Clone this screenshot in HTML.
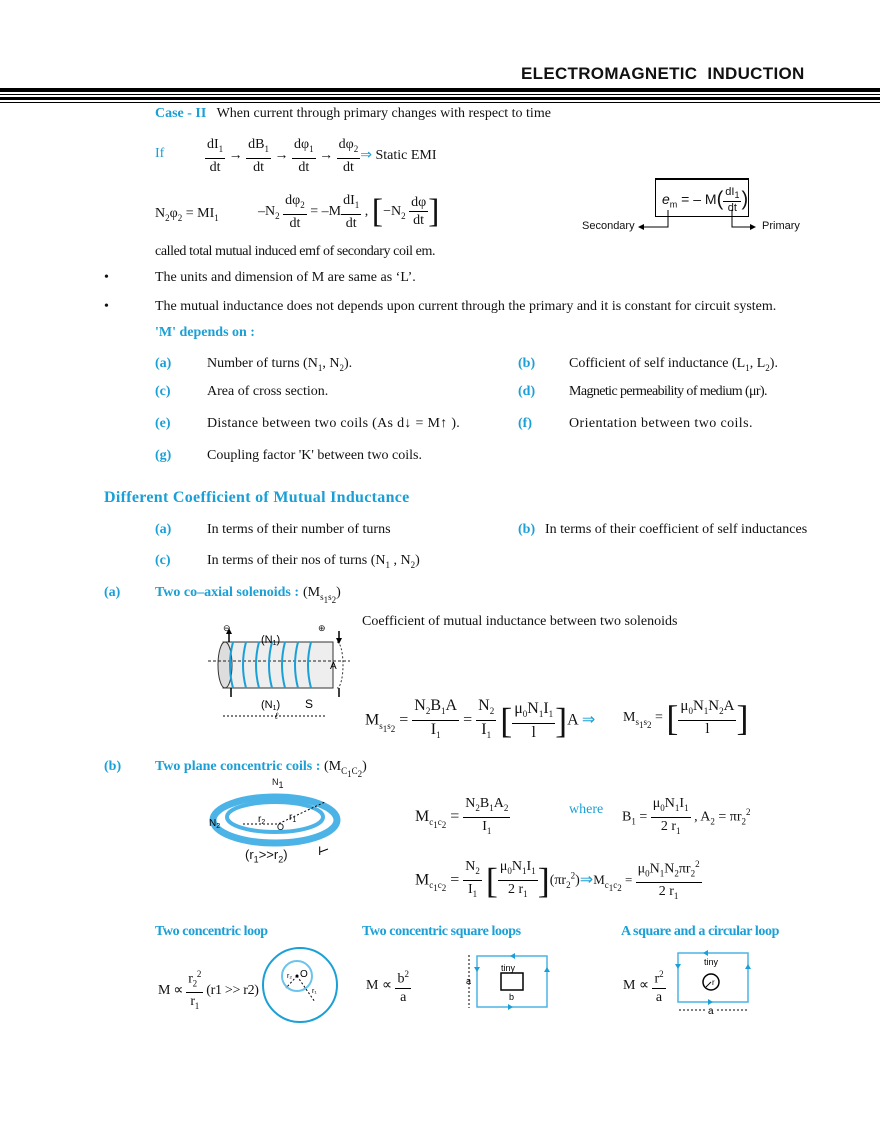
<!DOCTYPE html>
<html><head><meta charset="utf-8">
<style>
body{margin:0;width:880px;height:1139px;background:#fff;position:relative;font-family:"Liberation Serif",serif;font-size:14px;color:#111;overflow:hidden}
.a{position:absolute;white-space:nowrap}
.c{color:#1a9fd6}
.b{font-weight:bold}
.fr{display:inline-block;vertical-align:middle;text-align:center;line-height:17px}
.fr>span{display:block;padding:0 2px}
.fr>.n{border-bottom:1px solid #000}
sub{font-size:9px}
sup{font-size:9px}
.ln{position:absolute;left:0;width:880px;background:#000}
.sans{font-family:"Liberation Sans",sans-serif}
</style></head><body>
<div class="a sans b" style="left:521px;top:64px;font-size:17px;letter-spacing:0.3px">ELECTROMAGNETIC&nbsp; INDUCTION</div>
<div class="ln" style="top:88px;height:4px"></div>
<div class="ln" style="top:94px;height:1px"></div>
<div class="ln" style="top:97px;height:3px"></div>
<div class="ln" style="top:102px;height:1px"></div>

<div class="a" style="left:155px;top:106px"><span class="c b">Case - II</span>&nbsp;&nbsp; When current through primary changes with respect to time</div>
<div class="a c" style="left:155px;top:146px">If</div>
<div class="a" style="left:205px;top:136px">
<span class="fr"><span class="n">dI<sub>1</sub></span><span>dt</span></span> &rarr;
<span class="fr"><span class="n">dB<sub>1</sub></span><span>dt</span></span> &rarr;
<span class="fr"><span class="n">d&phi;<sub>1</sub></span><span>dt</span></span> &rarr;
<span class="fr"><span class="n">d&phi;<sub>2</sub></span><span>dt</span></span><span class="c">&rArr;</span> Static EMI</div>

<div class="a" style="left:155px;top:206px">N<sub>2</sub>&phi;<sub>2</sub> = MI<sub>1</sub></div>
<div class="a" style="left:258px;top:192px">&ndash;N<sub>2</sub> <span class="fr"><span class="n">d&phi;<sub>2</sub></span><span>dt</span></span> = &ndash;M<span class="fr"><span class="n">dI<sub>1</sub></span><span>dt</span></span> ,
<span style="font-size:34px;vertical-align:middle;font-weight:100">[</span>&minus;N<sub>2</sub> <span class="fr"><span class="n">d&phi;</span><span>dt</span></span><span style="font-size:34px;vertical-align:middle;font-weight:100">]</span></div>

<div class="a sans" style="left:655px;top:178px;width:92px;height:36px;border:1px solid #000;border-top:2px solid #000;font-size:13px"></div>
<div class="a sans" style="left:662px;top:186px;font-size:14px"><i>e</i><sub>m</sub> = &ndash; M<span style="font-size:20px;vertical-align:middle">(</span><span class="fr" style="font-size:11px;line-height:12px"><span class="n">dI<sub>1</sub></span><span>dt</span></span><span style="font-size:20px;vertical-align:middle">)</span></div>
<svg class="a" style="left:620px;top:210px" width="120" height="24"><path d="M48 0V17H22" stroke="#000" fill="none"/><path d="M18 17l6-3v6z"/><path d="M112 0V17H135" stroke="#000" fill="none"/></svg>
<svg class="a" style="left:730px;top:210px" width="30" height="24"><path d="M2 0V17H22" stroke="#000" fill="none"/><path d="M26 17l-6-3v6z"/></svg>
<div class="a sans" style="left:582px;top:220px;font-size:11px">Secondary</div>
<div class="a sans" style="left:762px;top:220px;font-size:11px">Primary</div>

<div class="a" style="left:155px;top:244px;letter-spacing:-0.4px">called total mutual induced emf of secondary coil em.</div>
<div class="a" style="left:104px;top:270px">&bull;</div>
<div class="a" style="left:155px;top:270px">The units and dimension of M are same as &lsquo;L&rsquo;.</div>
<div class="a" style="left:104px;top:299px">&bull;</div>
<div class="a" style="left:155px;top:299px">The mutual inductance does not depends upon current through the primary and it is constant for circuit system.</div>
<div class="a c b" style="left:155px;top:325px">'M' depends on :</div>

<div class="a c b" style="left:155px;top:356px">(a)</div><div class="a" style="left:207px;top:356px">Number of turns (N<sub>1</sub>, N<sub>2</sub>).</div>
<div class="a c b" style="left:518px;top:356px">(b)</div><div class="a" style="left:569px;top:356px">Cofficient of self inductance (L<sub>1</sub>, L<sub>2</sub>).</div>
<div class="a c b" style="left:155px;top:384px">(c)</div><div class="a" style="left:207px;top:384px">Area of cross section.</div>
<div class="a c b" style="left:518px;top:384px">(d)</div><div class="a" style="left:569px;top:384px;letter-spacing:-0.6px">Magnetic permeability of medium (&mu;r).</div>
<div class="a c b" style="left:155px;top:416px">(e)</div><div class="a" style="left:207px;top:416px;letter-spacing:0.3px">Distance between two coils (As d&darr; = M&uarr; ).</div>
<div class="a c b" style="left:518px;top:416px">(f)</div><div class="a" style="left:569px;top:416px;letter-spacing:0.4px">Orientation between two coils.</div>
<div class="a c b" style="left:155px;top:448px">(g)</div><div class="a" style="left:207px;top:448px">Coupling factor 'K' between two coils.</div>

<div class="a c b" style="left:104px;top:489px;font-size:16px;letter-spacing:0.3px">Different Coefficient of Mutual Inductance</div>
<div class="a c b" style="left:155px;top:522px">(a)</div><div class="a" style="left:207px;top:522px">In terms of their number of turns</div>
<div class="a c b" style="left:518px;top:522px">(b)</div><div class="a" style="left:545px;top:522px">In terms of their coefficient of self inductances</div>
<div class="a c b" style="left:155px;top:553px">(c)</div><div class="a" style="left:207px;top:553px">In terms of their nos of turns (N<sub>1</sub> , N<sub>2</sub>)</div>

<div class="a c b" style="left:104px;top:585px">(a)</div>
<div class="a c b" style="left:155px;top:585px">Two co&ndash;axial solenoids :</div>
<div class="a" style="left:303px;top:585px">(M<sub>s<sub>1</sub>s<sub>2</sub></sub>)</div>
<div class="a" style="left:362px;top:614px">Coefficient of mutual inductance between two solenoids</div>

<svg class="a" style="left:205px;top:625px" width="150" height="95">
<rect x="18" y="17" width="110" height="46" fill="#eee" stroke="#333"/>
<ellipse cx="20" cy="40" rx="7" ry="23" fill="#ddd" stroke="#333"/>
<path d="M132 17a6 23 0 0 1 0 46" stroke="#333" fill="none" stroke-dasharray="2 2"/>
<path d="M3 36H145" stroke="#222" stroke-dasharray="3 2"/>
<g stroke="#1a9fd6" stroke-width="2" fill="none">
<path d="M28 17q-6 23 0 46M41 17q-6 23 0 46M54 17q-6 23 0 46M67 17q-6 23 0 46M80 17q-6 23 0 46M93 17q-6 23 0 46M106 17q-6 23 0 46"/>
</g>
<path d="M24 17V5M134 6V17M26 63V72M134 63V72" stroke="#000" stroke-width="1.5"/>
<path d="M24 3l-3 6h6zM134 19l-3-6h6z"/>
<text x="125" y="44" font-family="Liberation Sans" font-size="10">A</text>
<text x="56" y="18" font-family="Liberation Sans" font-size="11">(N<tspan font-size="7" dy="2">1</tspan><tspan dy="-2">)</tspan></text>
<text x="56" y="83" font-family="Liberation Sans" font-size="11">(N<tspan font-size="7" dy="2">1</tspan><tspan dy="-2">)</tspan></text>
<text x="100" y="83" font-family="Liberation Sans" font-size="12">S</text>
<path d="M18 91H122" stroke="#000" stroke-dasharray="2 2"/>
<text x="70" y="94" font-family="Liberation Sans" font-size="9" font-style="italic">ℓ</text>
</svg>
<div class="a sans" style="left:223px;top:623px;font-size:9px">&#8854;</div>
<div class="a sans" style="left:318px;top:623px;font-size:9px">&#8853;</div>

<div class="a" style="left:365px;top:697px;font-size:16px">M<sub>s<sub>1</sub>s<sub>2</sub></sub> =
<span class="fr"><span class="n">N<sub>2</sub>B<sub>1</sub>A</span><span>I<sub>1</sub></span></span> =
<span class="fr"><span class="n">N<sub>2</sub></span><span>I<sub>1</sub></span></span>
<span style="font-size:36px;vertical-align:middle;font-weight:100">[</span><span class="fr"><span class="n">&mu;<sub>0</sub>N<sub>1</sub>I<sub>1</sub></span><span>l</span></span><span style="font-size:36px;vertical-align:middle;font-weight:100">]</span>A <span class="c">&rArr;</span></div>
<div class="a" style="left:623px;top:697px;font-size:14px">M<sub>s<sub>1</sub>s<sub>2</sub></sub> = <span style="font-size:36px;vertical-align:middle;font-weight:100">[</span><span class="fr" style="font-size:15px"><span class="n">&mu;<sub>0</sub>N<sub>1</sub>N<sub>2</sub>A</span><span>l</span></span><span style="font-size:36px;vertical-align:middle;font-weight:100">]</span></div>

<div class="a c b" style="left:104px;top:759px">(b)</div>
<div class="a c b" style="left:155px;top:759px">Two plane concentric coils :</div>
<div class="a" style="left:324px;top:759px">(M<sub>C<sub>1</sub>C<sub>2</sub></sub>)</div>

<svg class="a" style="left:205px;top:780px" width="140" height="80">
<ellipse cx="70" cy="40" rx="62" ry="23" fill="none" stroke="#4bb3e6" stroke-width="7"/>
<ellipse cx="70" cy="37" rx="48" ry="15" fill="none" stroke="#4bb3e6" stroke-width="4"/>
<path d="M38 44H73L120 22" stroke="#000" stroke-dasharray="2 2" fill="none"/>
<text x="4" y="46" font-family="Liberation Sans" font-size="10">N<tspan font-size="7" dy="2">2</tspan></text>
<text x="53" y="42" font-family="Liberation Sans" font-size="10">r<tspan font-size="7" dy="2">2</tspan></text>
<text x="84" y="40" font-family="Liberation Sans" font-size="10">r<tspan font-size="7" dy="2">1</tspan></text>
<text x="72" y="50" font-family="Liberation Sans" font-size="9">O</text>
<path d="M115 72l8-3" stroke="#000"/>
</svg>
<div class="a sans" style="left:272px;top:777px;font-size:9px">N<sub>1</sub></div>
<div class="a sans" style="left:245px;top:847px;font-size:13px">(r<sub>1</sub>&gt;&gt;r<sub>2</sub>)</div>
<div class="a sans" style="left:318px;top:844px;font-size:12px">I</div>

<div class="a" style="left:415px;top:795px;font-size:16px">M<sub>c<sub>1</sub>c<sub>2</sub></sub> = <span class="fr" style="font-size:14px"><span class="n">N<sub>2</sub>B<sub>1</sub>A<sub>2</sub></span><span>I<sub>1</sub></span></span></div>
<div class="a c" style="left:569px;top:802px">where</div>
<div class="a" style="left:622px;top:795px">B<sub>1</sub> = <span class="fr"><span class="n">&mu;<sub>0</sub>N<sub>1</sub>I<sub>1</sub></span><span>2 r<sub>1</sub></span></span> , A<sub>2</sub> = &pi;r<sub>2</sub><sup>2</sup></div>
<div class="a" style="left:415px;top:856px;font-size:16px">M<sub>c<sub>1</sub>c<sub>2</sub></sub> = <span class="fr" style="font-size:14px"><span class="n">N<sub>2</sub></span><span>I<sub>1</sub></span></span>
<span style="font-size:36px;vertical-align:middle;font-weight:100">[</span><span class="fr" style="font-size:14px"><span class="n">&mu;<sub>0</sub>N<sub>1</sub>I<sub>1</sub></span><span>2 r<sub>1</sub></span></span><span style="font-size:36px;vertical-align:middle;font-weight:100">]</span><span style="font-size:14px">(&pi;r<sub>2</sub><sup>2</sup>)</span><span class="c">&rArr;</span><span style="font-size:13px">M<sub>c<sub>1</sub>c<sub>2</sub></sub> = </span><span class="fr" style="font-size:14px"><span class="n">&mu;<sub>0</sub>N<sub>1</sub>N<sub>2</sub>&pi;r<sub>2</sub><sup>2</sup></span><span>2 r<sub>1</sub></span></span></div>

<div class="a c b" style="left:155px;top:924px;letter-spacing:-0.4px">Two concentric loop</div>
<div class="a c b" style="left:362px;top:924px;letter-spacing:-0.4px">Two concentric square loops</div>
<div class="a c b" style="left:621px;top:924px;letter-spacing:-0.4px">A square and a circular loop</div>

<div class="a" style="left:158px;top:966px;letter-spacing:-0.3px">M &prop; <span class="fr"><span class="n">r<sub>2</sub><sup>2</sup></span><span>r<sub>1</sub></span></span> (r1 &gt;&gt; r2)</div>
<svg class="a" style="left:262px;top:945px" width="80" height="80">
<circle cx="38" cy="40" r="37" fill="none" stroke="#1a9fd6" stroke-width="2"/>
<circle cx="35" cy="31" r="15" fill="none" stroke="#6cc4ec" stroke-width="2"/>
<path d="M35 31L24 43M35 31L53 57" stroke="#000" stroke-dasharray="2 2"/>
<circle cx="35" cy="31" r="1.5"/>
<text x="38" y="32" font-family="Liberation Sans" font-size="10">O</text>
<text x="25" y="33" font-family="Liberation Sans" font-size="7">r₂</text>
<text x="50" y="48" font-family="Liberation Sans" font-size="7">r₁</text>
</svg>

<div class="a" style="left:366px;top:966px">M &prop; <span class="fr"><span class="n">b<sup>2</sup></span><span>a</span></span></div>
<svg class="a" style="left:465px;top:950px" width="90" height="62">
<rect x="12" y="6" width="70" height="51" fill="none" stroke="#4bb3e6" stroke-width="1.5"/>
<rect x="36" y="23" width="22" height="17" fill="none" stroke="#000" stroke-width="1.5"/>
<path d="M4 5V58" stroke="#000" stroke-dasharray="2 2"/>
<path d="M50 3l-5 3 5 3zM43 54l5 3-5 3zM12 22l-3-5h6zM82 17l-3 5h6z" fill="#1a9fd6"/>
<text x="36" y="21" font-family="Liberation Sans" font-size="9">tiny</text>
<text x="1" y="34" font-family="Liberation Sans" font-size="9" fill="#000">a</text>
<text x="44" y="50" font-family="Liberation Sans" font-size="9">b</text>
</svg>

<div class="a" style="left:623px;top:966px">M &prop; <span class="fr"><span class="n">r<sup>2</sup></span><span>a</span></span></div>
<svg class="a" style="left:670px;top:947px" width="90" height="70">
<rect x="8" y="6" width="70" height="49" fill="none" stroke="#4bb3e6" stroke-width="1.5"/>
<circle cx="41" cy="35" r="8" fill="none" stroke="#000" stroke-width="1.5"/>
<path d="M41 35l-5 5" stroke="#000"/>
<path d="M38 3l-5 3 5 3zM38 52l5 3-5 3zM8 22l-3-5h6zM78 17l-3 5h6z" fill="#1a9fd6"/>
<text x="34" y="18" font-family="Liberation Sans" font-size="9">tiny</text>
<text x="42" y="38" font-family="Liberation Sans" font-size="8">r</text>
<path d="M9 63H35M47 63H78" stroke="#000" stroke-dasharray="2 2"/>
<text x="38" y="67" font-family="Liberation Sans" font-size="10">a</text>
</svg>
</body></html>
